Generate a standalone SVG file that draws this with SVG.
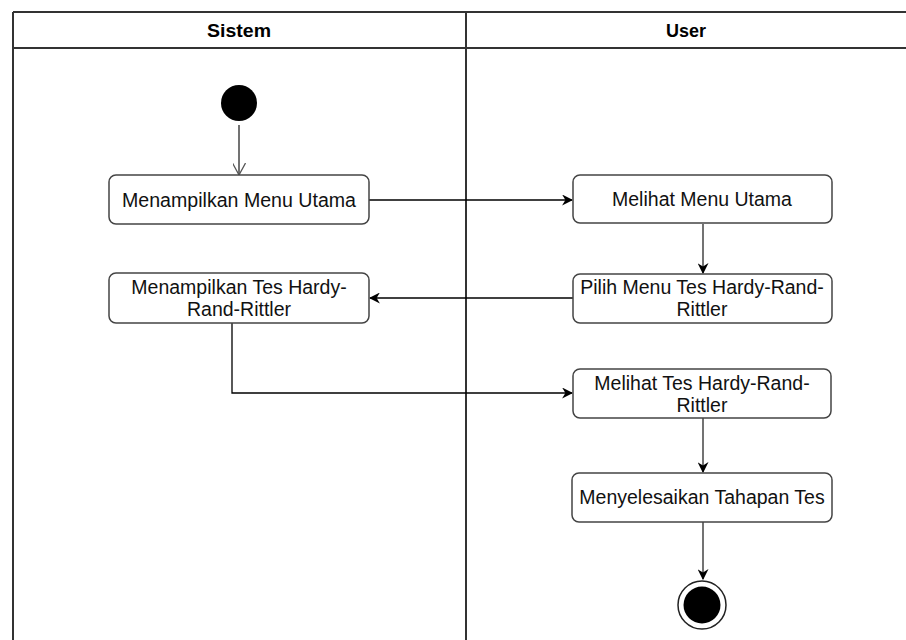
<svg xmlns="http://www.w3.org/2000/svg" width="906" height="640" viewBox="0 0 906 640">
<defs>
<marker id="arr" viewBox="0 0 10 10" refX="9" refY="5" markerWidth="11" markerHeight="11" markerUnits="userSpaceOnUse" orient="auto">
<path d="M0,0 L10,5 L0,10 L3,5 Z" fill="#000"/>
</marker>
<marker id="open" viewBox="0 0 12 12" refX="11" refY="6" markerWidth="13" markerHeight="13" markerUnits="userSpaceOnUse" orient="auto">
<path d="M0,0 L11,6 L0,12" fill="none" stroke="#555" stroke-width="1.2"/>
</marker>
</defs>
<style>
.lane{fill:none;stroke:#333;stroke-width:2}
.hdr{font-family:"Liberation Sans",Arial,sans-serif;font-size:18px;font-weight:bold;fill:#000;text-anchor:middle}
.box{fill:#fff;stroke:#444;stroke-width:1.5}
.t{font-family:"Liberation Sans",Arial,sans-serif;font-size:19.5px;fill:#111;text-anchor:middle;dominant-baseline:central}
.e{fill:none;stroke:#000;stroke-width:1.3}
.eg{fill:none;stroke:#444;stroke-width:1.5}
</style>
<rect width="906" height="640" fill="#fff"/>
<g id="lanes">
<line x1="13" y1="12" x2="906" y2="12" class="lane"/>
<line x1="13" y1="48" x2="906" y2="48" class="lane" stroke="#555"/>
<line x1="13" y1="12" x2="13" y2="640" class="lane" stroke="#777"/>
<line x1="466" y1="12" x2="466" y2="640" class="lane"/>
<text x="239" y="37" class="hdr" textLength="64" lengthAdjust="spacingAndGlyphs">Sistem</text>
<text x="686" y="37" class="hdr" textLength="40" lengthAdjust="spacingAndGlyphs">User</text>
</g>
<g id="connectors">
<line x1="239" y1="125" x2="239" y2="175" class="eg" marker-end="url(#open)"/>
<line x1="369" y1="200" x2="572" y2="200" class="e" marker-end="url(#arr)"/>
<line x1="703" y1="224" x2="703" y2="273" class="eg" marker-end="url(#arr)"/>
<line x1="573" y1="298" x2="370" y2="298" class="e" marker-end="url(#arr)"/>
<polyline points="232,323 232,393 572,393" class="e" marker-end="url(#arr)"/>
<line x1="703" y1="418" x2="703" y2="472" class="eg" marker-end="url(#arr)"/>
<line x1="703" y1="522" x2="703" y2="579" class="eg" marker-end="url(#arr)"/>
</g>
<g id="start"><circle cx="239" cy="103" r="18" fill="#000"/></g>
<g id="n1"><rect x="109" y="175" width="260" height="49" rx="7" class="box"/>
<text x="239" y="200" class="t" textLength="234" lengthAdjust="spacingAndGlyphs">Menampilkan Menu Utama</text></g>
<g id="n2"><rect x="573" y="175" width="259" height="48" rx="7" class="box"/>
<text x="702" y="199" class="t">Melihat Menu Utama</text></g>
<g id="n3"><rect x="573" y="274" width="259" height="49" rx="7" class="box"/>
<text x="702" y="287" class="t">Pilih Menu Tes Hardy-Rand-</text>
<text x="702" y="309" class="t">Rittler</text></g>
<g id="n4"><rect x="109" y="273" width="260" height="50" rx="7" class="box"/>
<text x="239" y="287" class="t">Menampilkan Tes Hardy-</text>
<text x="239" y="309" class="t">Rand-Rittler</text></g>
<g id="n5"><rect x="573" y="369" width="258" height="49" rx="7" class="box"/>
<text x="702" y="383" class="t">Melihat Tes Hardy-Rand-</text>
<text x="702" y="405" class="t">Rittler</text></g>
<g id="n6"><rect x="572" y="473" width="260" height="49" rx="7" class="box"/>
<text x="702" y="497" class="t">Menyelesaikan Tahapan Tes</text></g>
<g id="end"><circle cx="702" cy="605" r="24" fill="#fff" stroke="#222" stroke-width="1.5"/>
<circle cx="702" cy="605" r="18.5" fill="#000"/></g>
</svg>
